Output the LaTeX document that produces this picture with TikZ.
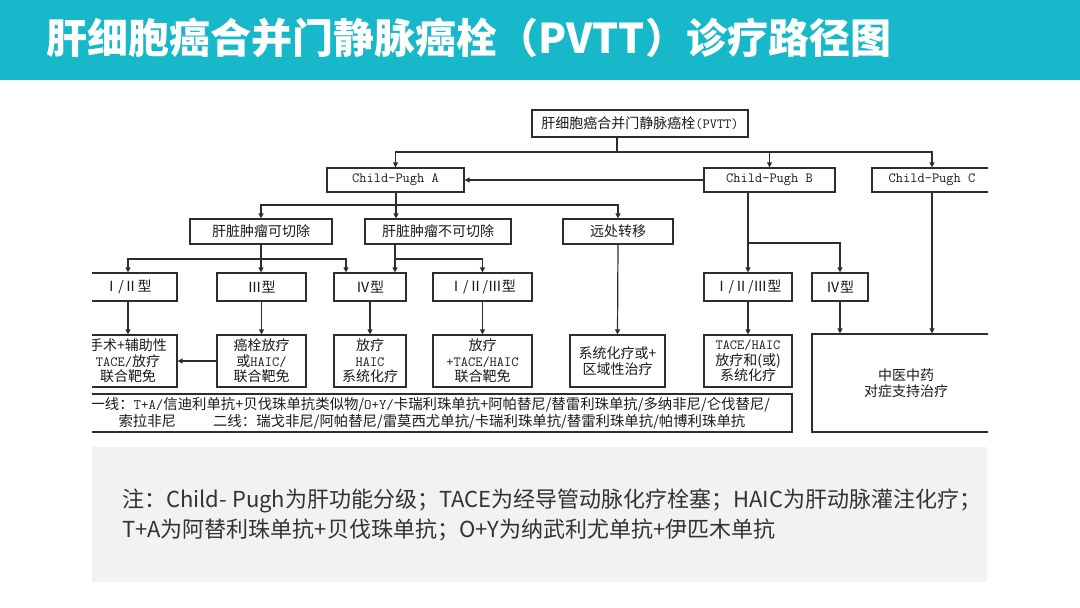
\documentclass[tikz,border=0pt]{standalone}
\usepackage{fontspec}
\newfontfamily\cjk{Noto Sans CJK SC}
\usetikzlibrary{arrows.meta}
\definecolor{banner}{RGB}{22,184,201}
\definecolor{linec}{RGB}{45,45,45}
\definecolor{notebg}{RGB}{242,242,242}
\newcommand\flowfont{\cjk\fontsize{14}{15.5}\selectfont}
\newcommand\lt[1]{{\ttfamily #1}}

\begin{document}
\begin{tikzpicture}[x=1pt, y=-1pt, >={Triangle[length=5pt, width=5pt]},
		box/.style={draw=linec, line width=1.2pt, inner sep=0pt, align=center, font=\flowfont, text=black!90},
		link/.style={draw=linec, line width=1.2pt},
		arr/.style={link, ->}]
		\useasboundingbox (0,0) rectangle (1080,608);
		% ---- title banner ----
		\fill[banner] (0,0) rectangle (1080,80);
		\node[anchor=west, inner sep=0pt, text=white, font=\cjk\bfseries\fontsize{41}{45}\selectfont] (title) at (46,38) {肝细胞癌合并门静脉癌栓（PVTT）诊疗路径图};
		% ---- flow chart ----
		\begin{scope}
			\clip (92,95) rectangle (988,440);
			\node[box, minimum width=216, minimum height=27] (pvtt) at (640,123.5) {肝细胞癌合并门静脉癌栓\lt{(PVTT)}};
			\node[box, minimum width=137, minimum height=24] (cpa) at (395.5,180) {\lt{Child-Pugh A}};
			\node[box, minimum width=131, minimum height=24] (cpb) at (769.5,180) {\lt{Child-Pugh B}};
			\node[box, minimum width=120, minimum height=24] (cpc) at (932,180) {\lt{Child-Pugh C}};
			\node[box, minimum width=142, minimum height=25] (res) at (261,231.5) {肝脏肿瘤可切除};
			\node[box, minimum width=146, minimum height=25] (unres) at (438,231.5) {肝脏肿瘤不可切除};
			\node[box, minimum width=110, minimum height=25] (meta) at (618,231.5) {远处转移};
			% types
			\node[box, minimum width=98, minimum height=28] (t1) at (128,287) {Ⅰ/Ⅱ型};
			\node[box, minimum width=89, minimum height=28] (t3) at (261.5,287) {Ⅲ型};
			\node[box, minimum width=72, minimum height=28] (t4) at (370,287) {Ⅳ型};
			\node[box, minimum width=99, minimum height=28] (t123) at (482.5,287) {Ⅰ/Ⅱ/Ⅲ型};
			\node[box, minimum width=88, minimum height=28] (bt123) at (748,287) {Ⅰ/Ⅱ/Ⅲ型};
			\node[box, minimum width=56, minimum height=28] (bt4) at (840,287) {Ⅳ型};
			% treatments
			\node[box, minimum width=98, minimum height=52] (r1) at (128,361) {手术+辅助性\\\lt{TACE/}放疗\\联合靶免};
			\node[box, minimum width=89, minimum height=52] (r2) at (261.5,361) {癌栓放疗\\或\lt{HAIC/}\\联合靶免};
			\node[box, minimum width=72, minimum height=52] (r3) at (370,361) {放疗\\\lt{HAIC}\\系统化疗};
			\node[box, minimum width=99, minimum height=52] (r4) at (482.5,361) {放疗\\\lt{+TACE/HAIC}\\联合靶免};
			\node[box, minimum width=95, minimum height=52] (r5) at (617.5,361) {系统化疗或+\\区域性治疗};
			\node[box, minimum width=88, minimum height=52] (r6) at (748,361) {\lt{TACE/HAIC}\\放疗和(或)\\系统化疗};
			\node[box, minimum width=188, minimum height=98] (tcm) at (906,383) {中医中药\\对症支持治疗};
			\node[box, minimum width=713, minimum height=38, text width=690, align=left, font=\cjk\fontsize{14.4}{17}\selectfont] (drugs) at (435.5,413)
				{一线：\lt{T+A/}信迪利单抗+贝伐珠单抗类似物/\lt{O+Y/}卡瑞利珠单抗+阿帕替尼/替雷利珠单抗/多纳非尼/仑伐替尼/\\
				\hspace*{28pt}索拉非尼\hspace{37pt}二线：瑞戈非尼/阿帕替尼/雷莫西尤单抗/卡瑞利珠单抗/替雷利珠单抗/帕博利珠单抗};
			% connectors
			\coordinate (j0) at (617,152);
			\draw[link] (j0 |- pvtt.south) -- (j0);
			\foreach \n in {cpa, cpb, cpc} \draw[arr] (j0) -| (\n.north);
			\draw[arr] (cpb.west) -- (cpa.east);
			\coordinate (j1) at (396,205);
			\draw[link] (j1 |- cpa.south) -- (j1);
			\draw[arr] (j1) -| (res.north);
			\draw[arr] (j1) -- (j1 |- unres.north);
			\draw[arr] (j1) -| (meta.north);
			\coordinate (j2) at (261,259);
			\draw[link] (j2 |- res.south) -- (j2);
			\draw[arr] (j2) -| (t1.north);
			\draw[arr] (j2) -- (j2 |- t3.north);
			\draw[arr] (j2) -| ([xshift=-24pt]t4.north);
			\coordinate (j3) at (395,259);
			\draw[link] (j3 |- unres.south) -- (j3);
			\draw[arr] (j3) -- (j3 |- t4.north);
			\draw[arr] (j3) -| (t123.north);
			\coordinate (j4) at (748,243);
			\draw[link] (j4 |- cpb.south) -- (j4);
			\draw[arr] (j4) -- (bt123.north);
			\draw[arr] (j4) -| (bt4.north);
			\foreach \a/\b in {t1/r1, t3/r2, t4/r3, t123/r4, bt123/r6, meta/r5} \draw[arr] (\a.south) -- (\b.north);
			\draw[arr] (bt4.south) -- (bt4.south |- tcm.north);
			\draw[arr] (cpc.south) -- (cpc.south |- tcm.north);
			\draw[arr] (r2.west) -- (r1.east);
		\end{scope}
		% ---- note ----
		\fill[notebg] (92,447) rectangle (987,582);
		\node[anchor=west, align=left, inner sep=0pt, text=black!80, font=\cjk\fontsize{22}{30}\selectfont] (note) at (122,515)
			{注：Child- Pugh为肝功能分级；TACE为经导管动脉化疗栓塞；HAIC为肝动脉灌注化疗；\\
			T+A为阿替利珠单抗+贝伐珠单抗；O+Y为纳武利尤单抗+伊匹木单抗};
	\end{tikzpicture}
\end{document}
